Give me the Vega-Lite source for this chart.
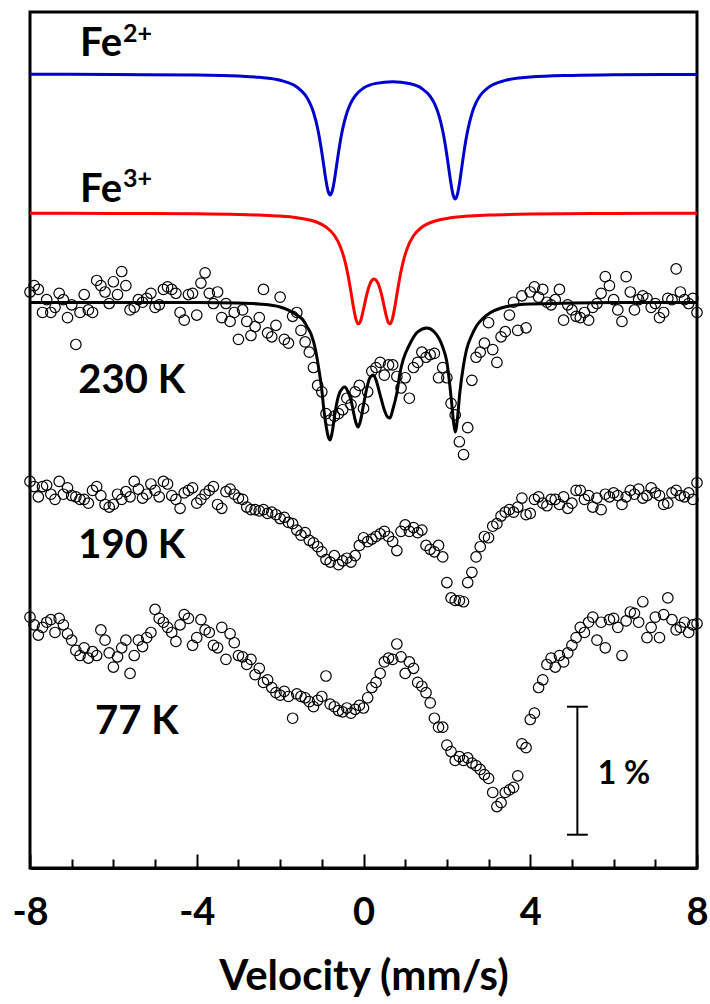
{
  "$schema": "https://vega.github.io/schema/vega-lite/v6.json",
  "width": 667,
  "height": 856,
  "autosize": "none",
  "padding": {"left": 30, "top": 12, "right": 13, "bottom": 136},
  "background": "white",
  "config": {"view": {"stroke": "black", "strokeWidth": 3}, "font": "Lato"},
  "datasets": {
    "fe2": [{"v":-8,"y":6.201},{"v":-6,"y":6.199},{"v":-4,"y":6.195},{"v":-3,"y":6.187},{"v":-2.5,"y":6.177},{"v":-2,"y":6.154},{"v":-1.6,"y":6.102},{"v":-1.4,"y":6.04},{"v":-1.3,"y":5.986},{"v":-1.2,"y":5.904},{"v":-1.1,"y":5.777},{"v":-1.05,"y":5.691},{"v":-1.0,"y":5.591},{"v":-0.95,"y":5.48},{"v":-0.9,"y":5.371},{"v":-0.85,"y":5.289},{"v":-0.8,"y":5.258},{"v":-0.75,"y":5.289},{"v":-0.7,"y":5.37},{"v":-0.65,"y":5.478},{"v":-0.6,"y":5.589},{"v":-0.55,"y":5.689},{"v":-0.5,"y":5.774},{"v":-0.4,"y":5.899},{"v":-0.3,"y":5.98},{"v":-0.2,"y":6.033},{"v":0,"y":6.093},{"v":0.3,"y":6.13},{"v":0.7,"y":6.143},{"v":1.1,"y":6.129},{"v":1.4,"y":6.09},{"v":1.6,"y":6.028},{"v":1.7,"y":5.973},{"v":1.8,"y":5.89},{"v":1.9,"y":5.76},{"v":1.95,"y":5.672},{"v":2.0,"y":5.569},{"v":2.05,"y":5.454},{"v":2.1,"y":5.343},{"v":2.15,"y":5.258},{"v":2.2,"y":5.227},{"v":2.25,"y":5.259},{"v":2.3,"y":5.344},{"v":2.35,"y":5.456},{"v":2.4,"y":5.571},{"v":2.45,"y":5.675},{"v":2.5,"y":5.763},{"v":2.6,"y":5.894},{"v":2.7,"y":5.979},{"v":2.8,"y":6.035},{"v":3.0,"y":6.099},{"v":3.4,"y":6.153},{"v":4,"y":6.179},{"v":5,"y":6.192},{"v":6,"y":6.197},{"v":8,"y":6.2}],
    "fe3": [{"v":-8,"y":5.115},{"v":-6,"y":5.114},{"v":-4,"y":5.111},{"v":-3,"y":5.106},{"v":-2.5,"y":5.101},{"v":-2,"y":5.093},{"v":-1.6,"y":5.08},{"v":-1.3,"y":5.063},{"v":-1.1,"y":5.043},{"v":-0.9,"y":5.008},{"v":-0.7,"y":4.943},{"v":-0.55,"y":4.85},{"v":-0.45,"y":4.747},{"v":-0.4,"y":4.677},{"v":-0.35,"y":4.594},{"v":-0.3,"y":4.498},{"v":-0.25,"y":4.399},{"v":-0.18,"y":4.286},{"v":-0.13,"y":4.251},{"v":-0.08,"y":4.266},{"v":0,"y":4.365},{"v":0.05,"y":4.441},{"v":0.1,"y":4.508},{"v":0.15,"y":4.559},{"v":0.2,"y":4.59},{"v":0.255,"y":4.602},{"v":0.3,"y":4.594},{"v":0.35,"y":4.567},{"v":0.4,"y":4.52},{"v":0.45,"y":4.456},{"v":0.5,"y":4.38},{"v":0.55,"y":4.308},{"v":0.6,"y":4.259},{"v":0.64,"y":4.251},{"v":0.69,"y":4.286},{"v":0.75,"y":4.38},{"v":0.8,"y":4.478},{"v":0.85,"y":4.575},{"v":0.9,"y":4.662},{"v":0.95,"y":4.734},{"v":1.05,"y":4.842},{"v":1.2,"y":4.939},{"v":1.4,"y":5.006},{"v":1.7,"y":5.053},{"v":2,"y":5.075},{"v":2.5,"y":5.093},{"v":3,"y":5.101},{"v":4,"y":5.109},{"v":6,"y":5.114},{"v":8,"y":5.115}],
    "fit230": [{"v":-8,"y":4.418},{"v":-6,"y":4.418},{"v":-4,"y":4.418},{"v":-3,"y":4.414},{"v":-2.5,"y":4.406},{"v":-2,"y":4.383},{"v":-1.8,"y":4.359},{"v":-1.6,"y":4.32},{"v":-1.45,"y":4.281},{"v":-1.35,"y":4.227},{"v":-1.25,"y":4.164},{"v":-1.15,"y":4.047},{"v":-1.08,"y":3.914},{"v":-1.0,"y":3.734},{"v":-0.95,"y":3.578},{"v":-0.9,"y":3.461},{"v":-0.85,"y":3.375},{"v":-0.8,"y":3.344},{"v":-0.75,"y":3.406},{"v":-0.7,"y":3.516},{"v":-0.65,"y":3.617},{"v":-0.6,"y":3.688},{"v":-0.5,"y":3.75},{"v":-0.45,"y":3.758},{"v":-0.37,"y":3.719},{"v":-0.3,"y":3.656},{"v":-0.25,"y":3.578},{"v":-0.2,"y":3.5},{"v":-0.13,"y":3.445},{"v":-0.08,"y":3.484},{"v":0,"y":3.617},{"v":0.08,"y":3.75},{"v":0.15,"y":3.828},{"v":0.235,"y":3.852},{"v":0.3,"y":3.813},{"v":0.4,"y":3.695},{"v":0.5,"y":3.578},{"v":0.58,"y":3.523},{"v":0.635,"y":3.516},{"v":0.7,"y":3.578},{"v":0.8,"y":3.711},{"v":0.875,"y":3.867},{"v":0.95,"y":3.969},{"v":1.1,"y":4.086},{"v":1.3,"y":4.188},{"v":1.52,"y":4.219},{"v":1.7,"y":4.188},{"v":1.9,"y":4.07},{"v":2.0,"y":3.953},{"v":2.07,"y":3.773},{"v":2.12,"y":3.617},{"v":2.16,"y":3.484},{"v":2.2,"y":3.406},{"v":2.25,"y":3.5},{"v":2.31,"y":3.711},{"v":2.4,"y":3.93},{"v":2.47,"y":4.047},{"v":2.6,"y":4.164},{"v":2.71,"y":4.234},{"v":2.85,"y":4.289},{"v":3.03,"y":4.336},{"v":3.3,"y":4.375},{"v":3.51,"y":4.391},{"v":4,"y":4.406},{"v":5,"y":4.414},{"v":6,"y":4.418},{"v":8,"y":4.418}],
    "s230": [{"v":-8.0,"y":4.50},{"v":-7.9,"y":4.55},{"v":-7.8,"y":4.52},{"v":-7.7,"y":4.34},{"v":-7.6,"y":4.44},{"v":-7.5,"y":4.34},{"v":-7.4,"y":4.38},{"v":-7.3,"y":4.49},{"v":-7.2,"y":4.44},{"v":-7.1,"y":4.30},{"v":-7.0,"y":4.40},{"v":-6.9,"y":4.09},{"v":-6.8,"y":4.34},{"v":-6.7,"y":4.48},{"v":-6.6,"y":4.36},{"v":-6.5,"y":4.34},{"v":-6.4,"y":4.59},{"v":-6.3,"y":4.55},{"v":-6.2,"y":4.50},{"v":-6.1,"y":4.41},{"v":-6.0,"y":4.58},{"v":-5.9,"y":4.48},{"v":-5.8,"y":4.66},{"v":-5.7,"y":4.55},{"v":-5.6,"y":4.36},{"v":-5.5,"y":4.38},{"v":-5.4,"y":4.44},{"v":-5.3,"y":4.42},{"v":-5.2,"y":4.45},{"v":-5.1,"y":4.49},{"v":-5.0,"y":4.38},{"v":-4.9,"y":4.40},{"v":-4.8,"y":4.52},{"v":-4.7,"y":4.54},{"v":-4.6,"y":4.52},{"v":-4.5,"y":4.49},{"v":-4.4,"y":4.34},{"v":-4.3,"y":4.28},{"v":-4.2,"y":4.48},{"v":-4.1,"y":4.49},{"v":-4.0,"y":4.32},{"v":-3.9,"y":4.57},{"v":-3.8,"y":4.65},{"v":-3.7,"y":4.49},{"v":-3.6,"y":4.41},{"v":-3.5,"y":4.50},{"v":-3.4,"y":4.30},{"v":-3.3,"y":4.41},{"v":-3.2,"y":4.27},{"v":-3.1,"y":4.34},{"v":-3.0,"y":4.13},{"v":-2.9,"y":4.36},{"v":-2.8,"y":4.27},{"v":-2.7,"y":4.16},{"v":-2.6,"y":4.23},{"v":-2.5,"y":4.30},{"v":-2.4,"y":4.52},{"v":-2.3,"y":4.18},{"v":-2.2,"y":4.15},{"v":-2.1,"y":4.24},{"v":-2.0,"y":4.46},{"v":-1.9,"y":4.13},{"v":-1.8,"y":4.10},{"v":-1.7,"y":4.31},{"v":-1.6,"y":4.34},{"v":-1.5,"y":4.20},{"v":-1.4,"y":4.11},{"v":-1.3,"y":4.03},{"v":-1.2,"y":3.91},{"v":-1.1,"y":3.77},{"v":-1.0,"y":3.72},{"v":-0.9,"y":3.55},{"v":-0.8,"y":3.50},{"v":-0.7,"y":3.53},{"v":-0.6,"y":3.55},{"v":-0.5,"y":3.58},{"v":-0.4,"y":3.67},{"v":-0.3,"y":3.62},{"v":-0.2,"y":3.72},{"v":-0.1,"y":3.77},{"v":0.0,"y":3.59},{"v":0.1,"y":3.72},{"v":0.2,"y":3.88},{"v":0.3,"y":3.91},{"v":0.4,"y":3.95},{"v":0.5,"y":3.85},{"v":0.6,"y":3.93},{"v":0.7,"y":3.93},{"v":0.8,"y":3.84},{"v":0.9,"y":3.75},{"v":1.0,"y":3.83},{"v":1.1,"y":3.67},{"v":1.2,"y":3.91},{"v":1.3,"y":3.95},{"v":1.4,"y":4.03},{"v":1.5,"y":3.99},{"v":1.6,"y":4.01},{"v":1.7,"y":4.02},{"v":1.8,"y":3.83},{"v":1.9,"y":3.91},{"v":2.0,"y":3.83},{"v":2.1,"y":3.63},{"v":2.2,"y":3.54},{"v":2.3,"y":3.33},{"v":2.4,"y":3.23},{"v":2.5,"y":3.44},{"v":2.6,"y":3.81},{"v":2.7,"y":3.99},{"v":2.8,"y":4.03},{"v":2.9,"y":4.10},{"v":3.0,"y":4.26},{"v":3.1,"y":4.05},{"v":3.2,"y":3.95},{"v":3.3,"y":4.15},{"v":3.4,"y":4.19},{"v":3.5,"y":4.32},{"v":3.6,"y":4.42},{"v":3.7,"y":4.20},{"v":3.8,"y":4.47},{"v":3.9,"y":4.22},{"v":4.0,"y":4.50},{"v":4.1,"y":4.54},{"v":4.2,"y":4.46},{"v":4.3,"y":4.52},{"v":4.4,"y":4.42},{"v":4.5,"y":4.40},{"v":4.6,"y":4.44},{"v":4.7,"y":4.52},{"v":4.8,"y":4.28},{"v":4.9,"y":4.40},{"v":5.0,"y":4.36},{"v":5.1,"y":4.31},{"v":5.2,"y":4.30},{"v":5.3,"y":4.34},{"v":5.4,"y":4.28},{"v":5.5,"y":4.38},{"v":5.6,"y":4.41},{"v":5.7,"y":4.49},{"v":5.8,"y":4.62},{"v":5.9,"y":4.55},{"v":6.0,"y":4.44},{"v":6.1,"y":4.36},{"v":6.2,"y":4.27},{"v":6.3,"y":4.62},{"v":6.4,"y":4.50},{"v":6.5,"y":4.36},{"v":6.6,"y":4.44},{"v":6.7,"y":4.47},{"v":6.8,"y":4.45},{"v":6.9,"y":4.38},{"v":7.0,"y":4.41},{"v":7.1,"y":4.30},{"v":7.2,"y":4.34},{"v":7.3,"y":4.45},{"v":7.4,"y":4.44},{"v":7.5,"y":4.68},{"v":7.6,"y":4.50},{"v":7.7,"y":4.44},{"v":7.8,"y":4.41},{"v":7.9,"y":4.45},{"v":8.0,"y":4.34}],
    "s190": [{"v":-8.0,"y":3.02},{"v":-7.9,"y":2.98},{"v":-7.8,"y":2.90},{"v":-7.7,"y":2.98},{"v":-7.6,"y":2.99},{"v":-7.5,"y":2.92},{"v":-7.4,"y":2.88},{"v":-7.3,"y":3.02},{"v":-7.2,"y":2.92},{"v":-7.1,"y":2.97},{"v":-7.0,"y":2.91},{"v":-6.9,"y":2.90},{"v":-6.8,"y":2.88},{"v":-6.7,"y":2.88},{"v":-6.6,"y":2.85},{"v":-6.5,"y":2.95},{"v":-6.4,"y":2.98},{"v":-6.3,"y":2.91},{"v":-6.2,"y":2.84},{"v":-6.1,"y":2.82},{"v":-6.0,"y":2.84},{"v":-5.9,"y":2.92},{"v":-5.8,"y":2.88},{"v":-5.7,"y":2.94},{"v":-5.6,"y":2.90},{"v":-5.5,"y":3.02},{"v":-5.4,"y":2.96},{"v":-5.3,"y":2.89},{"v":-5.2,"y":2.92},{"v":-5.1,"y":3.00},{"v":-5.0,"y":2.95},{"v":-4.9,"y":2.90},{"v":-4.8,"y":3.02},{"v":-4.7,"y":3.00},{"v":-4.6,"y":2.91},{"v":-4.5,"y":2.88},{"v":-4.4,"y":2.81},{"v":-4.3,"y":2.93},{"v":-4.2,"y":2.95},{"v":-4.1,"y":2.97},{"v":-4.0,"y":2.85},{"v":-3.9,"y":2.88},{"v":-3.8,"y":2.92},{"v":-3.7,"y":2.95},{"v":-3.6,"y":2.98},{"v":-3.5,"y":2.84},{"v":-3.4,"y":2.81},{"v":-3.3,"y":2.94},{"v":-3.2,"y":2.96},{"v":-3.1,"y":2.92},{"v":-3.0,"y":2.89},{"v":-2.9,"y":2.88},{"v":-2.8,"y":2.82},{"v":-2.7,"y":2.80},{"v":-2.6,"y":2.80},{"v":-2.5,"y":2.79},{"v":-2.4,"y":2.80},{"v":-2.3,"y":2.77},{"v":-2.2,"y":2.78},{"v":-2.1,"y":2.76},{"v":-2.0,"y":2.73},{"v":-1.9,"y":2.74},{"v":-1.8,"y":2.70},{"v":-1.7,"y":2.69},{"v":-1.6,"y":2.64},{"v":-1.5,"y":2.60},{"v":-1.4,"y":2.62},{"v":-1.3,"y":2.56},{"v":-1.2,"y":2.54},{"v":-1.1,"y":2.51},{"v":-1.0,"y":2.47},{"v":-0.9,"y":2.41},{"v":-0.8,"y":2.39},{"v":-0.7,"y":2.44},{"v":-0.6,"y":2.37},{"v":-0.5,"y":2.40},{"v":-0.4,"y":2.42},{"v":-0.3,"y":2.39},{"v":-0.2,"y":2.44},{"v":-0.1,"y":2.52},{"v":0.0,"y":2.58},{"v":0.1,"y":2.55},{"v":0.2,"y":2.57},{"v":0.3,"y":2.59},{"v":0.4,"y":2.61},{"v":0.5,"y":2.63},{"v":0.6,"y":2.59},{"v":0.7,"y":2.55},{"v":0.8,"y":2.48},{"v":0.9,"y":2.63},{"v":1.0,"y":2.68},{"v":1.1,"y":2.63},{"v":1.2,"y":2.66},{"v":1.3,"y":2.62},{"v":1.4,"y":2.64},{"v":1.5,"y":2.52},{"v":1.6,"y":2.49},{"v":1.7,"y":2.47},{"v":1.8,"y":2.52},{"v":1.9,"y":2.43},{"v":2.0,"y":2.23},{"v":2.1,"y":2.11},{"v":2.2,"y":2.09},{"v":2.3,"y":2.09},{"v":2.4,"y":2.08},{"v":2.5,"y":2.23},{"v":2.6,"y":2.31},{"v":2.7,"y":2.43},{"v":2.8,"y":2.51},{"v":2.9,"y":2.59},{"v":3.0,"y":2.58},{"v":3.1,"y":2.67},{"v":3.2,"y":2.69},{"v":3.3,"y":2.75},{"v":3.4,"y":2.78},{"v":3.5,"y":2.80},{"v":3.6,"y":2.78},{"v":3.7,"y":2.82},{"v":3.8,"y":2.89},{"v":3.9,"y":2.76},{"v":4.0,"y":2.77},{"v":4.1,"y":2.88},{"v":4.2,"y":2.90},{"v":4.3,"y":2.85},{"v":4.4,"y":2.83},{"v":4.5,"y":2.88},{"v":4.6,"y":2.88},{"v":4.7,"y":2.84},{"v":4.8,"y":2.90},{"v":4.9,"y":2.81},{"v":5.0,"y":2.85},{"v":5.1,"y":2.95},{"v":5.2,"y":2.95},{"v":5.3,"y":2.88},{"v":5.4,"y":2.91},{"v":5.5,"y":2.82},{"v":5.6,"y":2.89},{"v":5.7,"y":2.80},{"v":5.8,"y":2.92},{"v":5.9,"y":2.90},{"v":6.0,"y":2.93},{"v":6.1,"y":2.91},{"v":6.2,"y":2.84},{"v":6.3,"y":2.90},{"v":6.4,"y":2.95},{"v":6.5,"y":2.92},{"v":6.6,"y":2.96},{"v":6.7,"y":2.89},{"v":6.8,"y":2.91},{"v":6.9,"y":2.97},{"v":7.0,"y":2.93},{"v":7.1,"y":2.91},{"v":7.2,"y":2.84},{"v":7.3,"y":2.85},{"v":7.4,"y":2.93},{"v":7.5,"y":2.95},{"v":7.6,"y":2.91},{"v":7.7,"y":2.90},{"v":7.8,"y":2.93},{"v":7.9,"y":2.88},{"v":8.0,"y":3.01}],
    "s77": [{"v":-8.0,"y":1.96},{"v":-7.9,"y":1.90},{"v":-7.8,"y":1.82},{"v":-7.7,"y":1.88},{"v":-7.6,"y":1.92},{"v":-7.5,"y":1.94},{"v":-7.4,"y":1.84},{"v":-7.3,"y":1.95},{"v":-7.2,"y":1.90},{"v":-7.1,"y":1.83},{"v":-7.0,"y":1.78},{"v":-6.9,"y":1.70},{"v":-6.8,"y":1.66},{"v":-6.7,"y":1.72},{"v":-6.6,"y":1.64},{"v":-6.5,"y":1.69},{"v":-6.4,"y":1.66},{"v":-6.3,"y":1.86},{"v":-6.2,"y":1.78},{"v":-6.1,"y":1.68},{"v":-6.0,"y":1.57},{"v":-5.9,"y":1.65},{"v":-5.8,"y":1.72},{"v":-5.7,"y":1.78},{"v":-5.6,"y":1.52},{"v":-5.5,"y":1.66},{"v":-5.4,"y":1.78},{"v":-5.3,"y":1.73},{"v":-5.2,"y":1.80},{"v":-5.1,"y":1.84},{"v":-5.0,"y":2.02},{"v":-4.9,"y":1.95},{"v":-4.8,"y":1.92},{"v":-4.7,"y":1.88},{"v":-4.6,"y":1.84},{"v":-4.5,"y":1.77},{"v":-4.4,"y":1.90},{"v":-4.3,"y":1.98},{"v":-4.2,"y":1.95},{"v":-4.1,"y":1.74},{"v":-4.0,"y":1.80},{"v":-3.9,"y":1.94},{"v":-3.8,"y":1.86},{"v":-3.7,"y":1.84},{"v":-3.6,"y":1.74},{"v":-3.5,"y":1.72},{"v":-3.4,"y":1.88},{"v":-3.3,"y":1.63},{"v":-3.2,"y":1.83},{"v":-3.1,"y":1.76},{"v":-3.0,"y":1.66},{"v":-2.9,"y":1.65},{"v":-2.8,"y":1.59},{"v":-2.7,"y":1.63},{"v":-2.6,"y":1.51},{"v":-2.5,"y":1.56},{"v":-2.4,"y":1.45},{"v":-2.3,"y":1.47},{"v":-2.2,"y":1.41},{"v":-2.1,"y":1.37},{"v":-2.0,"y":1.35},{"v":-1.9,"y":1.38},{"v":-1.8,"y":1.34},{"v":-1.7,"y":1.17},{"v":-1.6,"y":1.36},{"v":-1.5,"y":1.34},{"v":-1.4,"y":1.33},{"v":-1.3,"y":1.30},{"v":-1.2,"y":1.26},{"v":-1.1,"y":1.31},{"v":-1.0,"y":1.34},{"v":-0.9,"y":1.50},{"v":-0.8,"y":1.28},{"v":-0.7,"y":1.26},{"v":-0.6,"y":1.23},{"v":-0.5,"y":1.22},{"v":-0.4,"y":1.25},{"v":-0.3,"y":1.21},{"v":-0.2,"y":1.24},{"v":-0.1,"y":1.27},{"v":0.0,"y":1.25},{"v":0.1,"y":1.33},{"v":0.2,"y":1.41},{"v":0.3,"y":1.45},{"v":0.4,"y":1.52},{"v":0.5,"y":1.61},{"v":0.6,"y":1.64},{"v":0.7,"y":1.63},{"v":0.8,"y":1.75},{"v":0.9,"y":1.65},{"v":1.0,"y":1.52},{"v":1.1,"y":1.61},{"v":1.2,"y":1.56},{"v":1.3,"y":1.45},{"v":1.4,"y":1.42},{"v":1.5,"y":1.37},{"v":1.6,"y":1.29},{"v":1.7,"y":1.17},{"v":1.8,"y":1.10},{"v":1.9,"y":1.10},{"v":2.0,"y":0.96},{"v":2.1,"y":0.91},{"v":2.2,"y":0.84},{"v":2.3,"y":0.87},{"v":2.4,"y":0.84},{"v":2.5,"y":0.86},{"v":2.6,"y":0.82},{"v":2.7,"y":0.80},{"v":2.8,"y":0.77},{"v":2.9,"y":0.73},{"v":3.0,"y":0.70},{"v":3.1,"y":0.59},{"v":3.2,"y":0.48},{"v":3.3,"y":0.51},{"v":3.4,"y":0.59},{"v":3.5,"y":0.61},{"v":3.6,"y":0.63},{"v":3.7,"y":0.72},{"v":3.8,"y":0.97},{"v":3.9,"y":0.94},{"v":4.0,"y":1.16},{"v":4.1,"y":1.21},{"v":4.2,"y":1.41},{"v":4.3,"y":1.47},{"v":4.4,"y":1.59},{"v":4.5,"y":1.64},{"v":4.6,"y":1.57},{"v":4.7,"y":1.66},{"v":4.8,"y":1.61},{"v":4.9,"y":1.68},{"v":5.0,"y":1.74},{"v":5.1,"y":1.80},{"v":5.2,"y":1.88},{"v":5.3,"y":1.84},{"v":5.4,"y":1.92},{"v":5.5,"y":1.96},{"v":5.6,"y":1.78},{"v":5.7,"y":1.92},{"v":5.8,"y":1.72},{"v":5.9,"y":1.94},{"v":6.0,"y":1.95},{"v":6.1,"y":1.88},{"v":6.2,"y":1.66},{"v":6.3,"y":1.93},{"v":6.4,"y":2.00},{"v":6.5,"y":1.99},{"v":6.6,"y":1.92},{"v":6.7,"y":2.08},{"v":6.8,"y":1.80},{"v":6.9,"y":1.88},{"v":7.0,"y":1.96},{"v":7.1,"y":1.80},{"v":7.2,"y":1.98},{"v":7.3,"y":2.11},{"v":7.4,"y":1.94},{"v":7.5,"y":1.86},{"v":7.6,"y":1.88},{"v":7.7,"y":1.92},{"v":7.8,"y":1.84},{"v":7.9,"y":1.90},{"v":8.0,"y":1.91}],
    "bigLabels": [{"v":-6.8,"y":6.34,"text":"Fe"},{"v":-6.8,"y":5.2,"text":"Fe"},{"v":-6.84,"y":3.71,"text":"230 K"},{"v":-6.84,"y":2.42,"text":"190 K"},{"v":-6.44,"y":1.05,"text":"77 K"}],
    "supLabels": [{"v":-5.77,"y":6.45,"text":"2+"},{"v":-5.77,"y":5.32,"text":"3+"}],
    "barLabel": [{"v":5.62,"y":0.66,"text":"1 %"}],
    "barV": [{"v":5.13,"y":0.26,"y2":1.26}],
    "barCaps": [{"v":4.88,"v2":5.38,"y":0.26},{"v":4.88,"v2":5.38,"y":1.26}]
  },
  "encoding": {
    "x": {
      "field": "v", "type": "quantitative",
      "scale": {"domain": [-8, 8], "nice": false, "zero": false},
      "axis": {
        "values": [-8,-7,-6,-5,-4,-3,-2,-1,0,1,2,3,4,5,6,7,8],
        "labelExpr": "datum.value % 4 === 0 ? '' + datum.value : ''",
        "grid": false,
        "domainColor": "black", "domainWidth": 3,
        "tickColor": "black", "tickWidth": 2,
        "tickSize": {"condition": {"test": "datum.value % 4 === 0", "value": -14}, "value": -9},
        "labelFont": "Lato", "labelFontWeight": "bold", "labelFontSize": 38, "labelColor": "black",
        "labelPadding": 40, "labelFlush": false, "labelOverlap": false, "labelBound": false,
        "title": "Velocity (mm/s)", "titleFont": "Lato", "titleFontSize": 42, "titleFontWeight": "bold",
        "titleColor": "black", "titlePadding": 19
      }
    },
    "y": {
      "field": "y", "type": "quantitative",
      "scale": {"domain": [0, 6.6875], "nice": false, "zero": false},
      "axis": null
    }
  },
  "layer": [
    {"data": {"name": "fe2"}, "mark": {"type": "line", "color": "#0000CC", "strokeWidth": 3, "interpolate": "monotone"}},
    {"data": {"name": "fe3"}, "mark": {"type": "line", "color": "#FF0000", "strokeWidth": 3, "interpolate": "monotone"}},
    {"data": {"name": "s230"}, "mark": {"type": "point", "shape": "circle", "filled": false, "color": "black", "size": 110, "strokeWidth": 1.2, "opacity": 1}},
    {"data": {"name": "s190"}, "mark": {"type": "point", "shape": "circle", "filled": false, "color": "black", "size": 110, "strokeWidth": 1.2, "opacity": 1}},
    {"data": {"name": "s77"}, "mark": {"type": "point", "shape": "circle", "filled": false, "color": "black", "size": 110, "strokeWidth": 1.2, "opacity": 1}},
    {"data": {"name": "fit230"}, "mark": {"type": "line", "color": "black", "strokeWidth": 3, "interpolate": "monotone"}},
    {"data": {"name": "barV"}, "mark": {"type": "rule", "color": "black", "strokeWidth": 2}, "encoding": {"y2": {"field": "y2"}}},
    {"data": {"name": "barCaps"}, "mark": {"type": "rule", "color": "black", "strokeWidth": 2}, "encoding": {"x2": {"field": "v2"}}},
    {"data": {"name": "bigLabels"}, "mark": {"type": "text", "align": "left", "baseline": "alphabetic", "font": "Lato", "fontWeight": "bold", "fontSize": 40, "color": "black"}, "encoding": {"text": {"field": "text"}}},
    {"data": {"name": "supLabels"}, "mark": {"type": "text", "align": "left", "baseline": "alphabetic", "font": "Lato", "fontWeight": "bold", "fontSize": 25, "color": "black"}, "encoding": {"text": {"field": "text"}}},
    {"data": {"name": "barLabel"}, "mark": {"type": "text", "align": "left", "baseline": "alphabetic", "font": "Lato", "fontWeight": "bold", "fontSize": 32, "color": "black"}, "encoding": {"text": {"field": "text"}}}
  ]
}
